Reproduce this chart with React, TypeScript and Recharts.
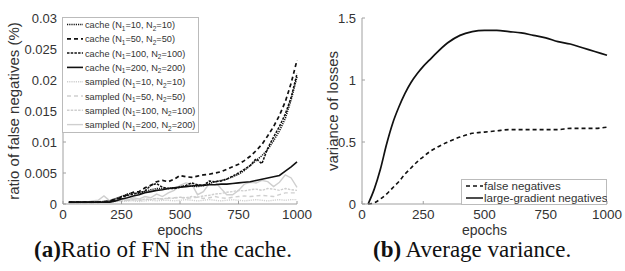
import React from "react";
import { LineChart, Line, XAxis, YAxis, Label } from "recharts";

// ---------- data ----------

const epochs = [
  25, 50, 75, 100, 125, 150, 175, 200, 225, 250, 275, 300, 325, 350, 375, 400, 425, 450, 475, 500,
  525, 550, 575, 600, 625, 650, 675, 700, 725, 750, 775, 800, 825, 850, 875, 900, 925, 950, 975, 1000,
];

const cacheN10 = [
  0.0003, 0.0003, 0.0003, 0.0003, 0.0003, 0.0003, 0.0003, 0.0005, 0.0009, 0.0012, 0.0016, 0.0018, 0.0017, 0.002,
  0.0023, 0.0025, 0.0025, 0.0025, 0.0026, 0.0028, 0.0029, 0.0029, 0.0028, 0.003, 0.0033, 0.0036, 0.0038, 0.004,
  0.0044, 0.0048, 0.0054, 0.0062, 0.007, 0.0078, 0.0088, 0.0102, 0.0118, 0.0138, 0.0168, 0.0205,
];
const cacheN50 = [
  0.0003, 0.0003, 0.0003, 0.0003, 0.0003, 0.0003, 0.0004, 0.0005, 0.0008, 0.001, 0.0015, 0.0019, 0.002, 0.0026,
  0.003, 0.0036, 0.0038, 0.0036, 0.004, 0.0046, 0.0044, 0.0043, 0.0045, 0.0047, 0.0048, 0.005, 0.0052, 0.0056,
  0.006, 0.0064, 0.007, 0.0077, 0.0086, 0.0096, 0.011, 0.0125, 0.0143, 0.0165, 0.0195, 0.0232,
];
const cacheN100 = [
  0.0003, 0.0003, 0.0003, 0.0003, 0.0003, 0.0003, 0.0003, 0.0004, 0.0007, 0.0012, 0.0014, 0.0016, 0.0018, 0.0021,
  0.003, 0.0033, 0.0027, 0.0025, 0.0025, 0.0027, 0.003, 0.0034, 0.0031, 0.003, 0.0037, 0.0036, 0.0037, 0.004,
  0.0045, 0.005, 0.0056, 0.0062, 0.0073, 0.0065, 0.009, 0.0108, 0.0125, 0.0145, 0.0172, 0.021,
];
const cacheN200 = [
  0.0003, 0.0003, 0.0003, 0.0003, 0.0003, 0.0003, 0.0003, 0.0003, 0.0005, 0.0008, 0.001, 0.0013, 0.0015, 0.0018,
  0.002, 0.0022, 0.0023, 0.0025, 0.0026, 0.0027, 0.0028, 0.0029, 0.003, 0.003, 0.0031, 0.0031, 0.0032, 0.0032,
  0.0033, 0.0034, 0.0035, 0.0036, 0.0038, 0.004, 0.0042, 0.0044, 0.0046, 0.0053, 0.006, 0.0068,
];
const sampledN10 = [
  0.0002, 0.0002, 0.0002, 0.0002, 0.0002, 0.0003, 0.0003, 0.0003, 0.0004, 0.0004, 0.0005, 0.0005, 0.0004, 0.0005,
  0.0006, 0.0005, 0.0006, 0.0006, 0.0005, 0.0006, 0.0007, 0.0006, 0.0005, 0.0006, 0.0007, 0.0006, 0.0005, 0.0006,
  0.0007, 0.0006, 0.0005, 0.0006, 0.0007, 0.0006, 0.0005, 0.0006, 0.0007, 0.0006, 0.0007, 0.0007,
];
const sampledN50 = [
  0.0002, 0.0002, 0.0002, 0.0002, 0.0002, 0.0002, 0.0004, 0.0005, 0.0005, 0.0006, 0.0006, 0.0007, 0.0006, 0.0007,
  0.0008, 0.0009, 0.0008, 0.0009, 0.001, 0.0011, 0.0009, 0.001, 0.0011, 0.0009, 0.001, 0.0012, 0.001, 0.0009,
  0.0011, 0.0012, 0.0013, 0.0012, 0.0013, 0.0014, 0.0013, 0.0012, 0.0015, 0.0018, 0.0018, 0.0018,
];
const sampledN100 = [
  0.0002, 0.0002, 0.0002, 0.0003, 0.0003, 0.0004, 0.0005, 0.0004, 0.0005, 0.0006, 0.0005, 0.0007, 0.0006, 0.0008,
  0.0007, 0.0009, 0.0008, 0.001, 0.0009, 0.0011, 0.001, 0.0012, 0.0011, 0.0013, 0.0014, 0.0016, 0.0017, 0.0019,
  0.002, 0.0022, 0.0021, 0.0023, 0.0024, 0.0022, 0.0025, 0.0024, 0.0022, 0.0025, 0.0023, 0.0022,
];
const sampledN200 = [
  0.0002, 0.0002, 0.0003, 0.0003, 0.0005, 0.0006, 0.0013, 0.0005, 0.0007, 0.0008, 0.0006, 0.001, 0.0008, 0.0012,
  0.001, 0.0016, 0.0012, 0.0018, 0.0022, 0.003, 0.0034, 0.0032, 0.0015, 0.002, 0.0033, 0.0036, 0.0025, 0.0015,
  0.0015, 0.0022, 0.0032, 0.0035, 0.0034, 0.0038, 0.0036, 0.0028, 0.0035, 0.0047, 0.0042, 0.0027,
];

const leftYTicks = [0, 0.005, 0.01, 0.015, 0.02, 0.025, 0.03];
const xTicks = [0, 250, 500, 750, 1000];

const varEpochs = [
  25, 50, 75, 100, 125, 150, 175, 200, 225, 250, 275, 300, 350, 400, 450, 500, 550, 600, 650, 700, 750, 800, 850,
  900, 950, 1000,
];
const falseNegVar = [
  0, 0.01, 0.04, 0.08, 0.13, 0.18, 0.24, 0.29, 0.34, 0.38, 0.42, 0.45, 0.5, 0.54, 0.57, 0.58, 0.59, 0.6, 0.6, 0.6,
  0.6, 0.6, 0.61, 0.61, 0.61, 0.62,
];
const largeGradVar = [
  0, 0.12, 0.28, 0.48, 0.65, 0.78, 0.89, 0.98, 1.05, 1.11, 1.16, 1.21, 1.3, 1.36, 1.39, 1.4, 1.4, 1.39, 1.38, 1.36,
  1.34, 1.31, 1.29, 1.26, 1.23, 1.2,
];
const rightYTicks = [0, 0.5, 1, 1.5];

// ---------- series config ----------

const BLACK = "#111";
const GREY = "#cfcfcf";

const leftSeries = [
  { key: "c10", label: ["cache", "10", "10"], values: cacheN10, color: BLACK, dash: "1.2 1", width: 1.5 },
  { key: "c50", label: ["cache", "50", "50"], values: cacheN50, color: BLACK, dash: "4 3", width: 1.7 },
  { key: "c100", label: ["cache", "100", "100"], values: cacheN100, color: BLACK, dash: "2.5 1.2", width: 1.5 },
  { key: "c200", label: ["cache", "200", "200"], values: cacheN200, color: BLACK, dash: undefined, width: 1.6 },
  { key: "s10", label: ["sampled", "10", "10"], values: sampledN10, color: GREY, dash: "1.2 1", width: 1.4 },
  { key: "s50", label: ["sampled", "50", "50"], values: sampledN50, color: GREY, dash: "4 3", width: 1.4 },
  { key: "s100", label: ["sampled", "100", "100"], values: sampledN100, color: GREY, dash: "2.5 1.2", width: 1.4 },
  { key: "s200", label: ["sampled", "200", "200"], values: sampledN200, color: GREY, dash: undefined, width: 1.4 },
];

const leftData = epochs.map((e, i) => {
  const row: Record<string, number> = { epoch: e };
  leftSeries.forEach((s) => (row[s.key] = s.values[i]));
  return row;
});

const rightData = varEpochs.map((e, i) => ({ epoch: e, fn: falseNegVar[i], lg: largeGradVar[i] }));

// ---------- axis helpers ----------

const FONT = "'Liberation Sans', Arial, sans-serif";
const AXIS = "#a0a0a0";
const TEXT = "#333";
const TICK_LEN = 3;

const BottomTick = (p: any) => (
  <g>
    <line x1={p.x} x2={p.x} y1={p.y} y2={p.y - TICK_LEN} stroke={AXIS} />
    <text x={p.x} y={p.y + 15} textAnchor="middle" fontSize={13.5} fill={TEXT} fontFamily={FONT}>
      {p.payload.value}
    </text>
  </g>
);
const TopTick = (p: any) => <line x1={p.x} x2={p.x} y1={p.y} y2={p.y + TICK_LEN} stroke={AXIS} />;
const LeftTick = (p: any) => (
  <g>
    <line x1={p.x} x2={p.x + TICK_LEN} y1={p.y} y2={p.y} stroke={AXIS} />
    <text x={p.x - 6} y={p.y + 5} textAnchor="end" fontSize={13} fill={TEXT} fontFamily={FONT}>
      {p.payload.value}
    </text>
  </g>
);
const RightTick = (p: any) => <line x1={p.x} x2={p.x - TICK_LEN} y1={p.y} y2={p.y} stroke={AXIS} />;

function BoxAxes({ yTicks, yDomain, yWidth, yLabel, yLabelDx }: any) {
  return [
    <XAxis
      key="xb"
      dataKey="epoch"
      type="number"
      domain={[0, 1000]}
      ticks={xTicks}
      height={36}
      tickSize={0}
      tickMargin={0}
      stroke={AXIS}
      tick={BottomTick}
      interval={0}
    >
      <Label value="epochs" position="center" dy={8} fontSize={14} fill={TEXT} fontFamily={FONT} />
    </XAxis>,
    <XAxis
      key="xt"
      xAxisId="top"
      orientation="top"
      dataKey="epoch"
      type="number"
      domain={[0, 1000]}
      ticks={xTicks}
      height={0}
      tickSize={0}
      tickMargin={0}
      stroke={AXIS}
      tick={TopTick}
      interval={0}
    />,
    <YAxis
      key="yl"
      type="number"
      domain={yDomain}
      ticks={yTicks}
      width={yWidth}
      tickSize={0}
      tickMargin={0}
      stroke={AXIS}
      tick={LeftTick}
      interval={0}
    >
      <Label
        value={yLabel}
        position="center"
        angle={-90}
        dx={yLabelDx}
        fontSize={15}
        fill={TEXT}
        fontFamily={FONT}
      />
    </YAxis>,
    <YAxis
      key="yr"
      yAxisId="right"
      orientation="right"
      type="number"
      domain={yDomain}
      ticks={yTicks}
      width={0}
      tickSize={0}
      tickMargin={0}
      stroke={AXIS}
      tick={RightTick}
      interval={0}
    />,
  ];
}

// legend label with N subscripts
function NLabel({ x, y, parts, size }: { x: number; y: number; parts: string[]; size: number }) {
  const sub = size * 0.7;
  return (
    <text x={x} y={y} fontSize={size} fill={TEXT} fontFamily={FONT}>
      {parts[0]} (N
      <tspan fontSize={sub} dy={2.5}>1</tspan>
      <tspan dy={-2.5}>={parts[1]}, N</tspan>
      <tspan fontSize={sub} dy={2.5}>2</tspan>
      <tspan dy={-2.5}>={parts[2]})</tspan>
    </text>
  );
}

function LeftLegend() {
  const rowH = 14.3;
  return (
    <svg width={137} height={116} style={{ position: "absolute", left: 62, top: 17 }}>
      <rect x={0.5} y={0.5} width={136} height={115} fill="#fff" stroke="#bbb" />
      {leftSeries.map((s, i) => {
        const cy = 7.5 + i * rowH;
        return (
          <g key={s.key}>
            <line x1={5} x2={21} y1={cy} y2={cy} stroke={s.color} strokeWidth={s.width} strokeDasharray={s.dash} />
            <NLabel x={23} y={cy + 3.5} parts={s.label} size={9.2} />
          </g>
        );
      })}
    </svg>
  );
}

function RightLegend() {
  const items = [
    { label: "false negatives", dash: "4 3" },
    { label: "large-gradient negatives", dash: undefined },
  ];
  return (
    <svg width={146} height={26} style={{ position: "absolute", left: 461, top: 179 }}>
      <rect x={0.5} y={0.5} width={145} height={25} fill="#fff" stroke="#bbb" />
      {items.map((it, i) => {
        const cy = 7 + i * 12;
        return (
          <g key={it.label}>
            <line x1={5} x2={22} y1={cy} y2={cy} stroke={BLACK} strokeWidth={1.5} strokeDasharray={it.dash} />
            <text x={23} y={cy + 4} fontSize={11.5} fill={TEXT} fontFamily={FONT}>
              {it.label}
            </text>
          </g>
        );
      })}
    </svg>
  );
}

function Caption({ left, tag, text }: { left: number; tag: string; text: string }) {
  return (
    <div
      style={{
        position: "absolute",
        left,
        top: 237,
        lineHeight: "26px",
        fontFamily: "'Liberation Serif', 'Times New Roman', serif",
        fontSize: 23,
        color: "#111",
        whiteSpace: "pre",
      }}
    >
      <b>{tag}</b>
      {text}
    </div>
  );
}

export default function App() {
  return (
    <div style={{ position: "absolute", left: 0, top: 0, width: 625, height: 271, background: "#fff", overflow: "hidden" }}>
      <div style={{ position: "absolute", left: 0, top: 0 }}>
        <LineChart width={320} height={240} data={leftData} margin={{ top: 18, right: 23, bottom: 0, left: 0 }}>
          {BoxAxes({
            yTicks: leftYTicks,
            yDomain: [0, 0.03],
            yWidth: 63,
            yLabel: "ratio of false negatives (%)",
            yLabelDx: -18,
          })}
          {leftSeries
            .slice()
            .reverse()
            .map((s) => (
              <Line
                key={s.key}
                dataKey={s.key}
                type="linear"
                stroke={s.color}
                strokeWidth={s.width}
                strokeDasharray={s.dash}
                dot={false}
                isAnimationActive={false}
              />
            ))}
        </LineChart>
        <LeftLegend />
      </div>
      <div style={{ position: "absolute", left: 320, top: 0 }}>
        <LineChart width={305} height={240} data={rightData} margin={{ top: 18, right: 18, bottom: 0, left: 0 }}>
          {BoxAxes({
            yTicks: rightYTicks,
            yDomain: [0, 1.5],
            yWidth: 42,
            yLabel: "variance of losses",
            yLabelDx: -8,
          })}
          <Line
            dataKey="fn"
            type="monotone"
            stroke={BLACK}
            strokeWidth={1.6}
            strokeDasharray="4 3"
            dot={false}
            isAnimationActive={false}
          />
          <Line dataKey="lg" type="monotone" stroke={BLACK} strokeWidth={1.7} dot={false} isAnimationActive={false} />
        </LineChart>
      </div>
      <RightLegend />
      <Caption left={34} tag="(a)" text="Ratio of FN in the cache." />
      <Caption left={373} tag="(b)" text=" Average variance." />
    </div>
  );
}
